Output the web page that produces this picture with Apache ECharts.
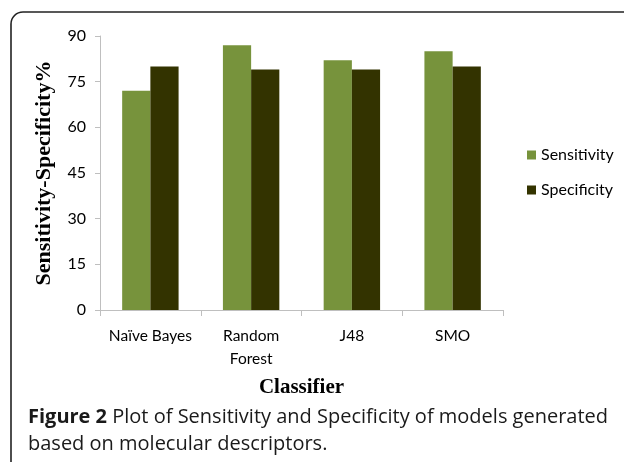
<!DOCTYPE html>
<html>
<head>
<meta charset="utf-8">
<script src="https://cdn.jsdelivr.net/npm/echarts@6/dist/echarts.min.js"></script>
<style>
  html, body { margin: 0; padding: 0; background: #fff; }
  #chart { width: 624px; height: 462px; }
</style>
</head>
<body>
<div id="chart"></div>
<script>
// Classifier performance on molecular descriptors
const classifiers = ['Naïve Bayes', 'Random\nForest', 'J48', 'SMO'];
const sensitivity = [72, 87, 82, 85];
const specificity = [80, 79, 79, 80];
const yTicks = [0, 15, 30, 45, 60, 75, 90];

const chart = echarts.init(document.getElementById('chart'), null, { renderer: 'canvas' });

const labelFont = 'Lato, "Open Sans", sans-serif';
const serifFont = '"Liberation Serif", "Times New Roman", serif';
const captionFont = '"Open Sans", "Noto Sans", sans-serif';

chart.setOption({
  animation: false,
  backgroundColor: '#fff',
  grid: { left: 100, right: 121, top: 36, bottom: 152 },
  legend: {
    orient: 'vertical',
    left: 522,
    top: 142,
    itemWidth: 9,
    itemHeight: 9,
    itemGap: 19,
    icon: 'rect',
    textStyle: { fontFamily: labelFont, fontSize: 16, color: '#000', padding: [0, 0, 0, 0] },
    data: ['Sensitivity', 'Specificity']
  },
  xAxis: {
    type: 'category',
    data: classifiers,
    name: 'Classifier',
    nameLocation: 'middle',
    nameGap: 67,
    nameTextStyle: { fontFamily: serifFont, fontWeight: 'bold', fontSize: 21, color: '#000' },
    axisLine: { lineStyle: { color: '#bfbfbf', width: 1 } },
    axisTick: { show: true, alignWithLabel: false, length: 6, lineStyle: { color: '#bfbfbf' } },
    axisLabel: { fontFamily: labelFont, fontSize: 15.5, color: '#000', margin: 14, lineHeight: 23, interval: 0 }
  },
  yAxis: {
    type: 'value',
    min: yTicks[0],
    max: yTicks[yTicks.length - 1],
    interval: yTicks[1] - yTicks[0],
    name: 'Sensitivity-Specificity%',
    nameLocation: 'middle',
    nameGap: 45,
    nameTextStyle: { fontFamily: serifFont, fontWeight: 'bold', fontSize: 22, color: '#000' },
    axisLine: { show: true, lineStyle: { color: '#bfbfbf', width: 1 } },
    axisTick: { show: true, length: 5, lineStyle: { color: '#bfbfbf' } },
    splitLine: { show: false },
    axisLabel: { fontFamily: labelFont, fontSize: 16, color: '#000', margin: 14 }
  },
  series: [
    {
      name: 'Sensitivity',
      type: 'bar',
      data: sensitivity,
      barGap: '0%',
      barCategoryGap: '44%',
      itemStyle: { color: '#77933c' }
    },
    {
      name: 'Specificity',
      type: 'bar',
      data: specificity,
      itemStyle: { color: '#333300' }
    }
  ],
  graphic: [
    {
      type: 'rect',
      shape: { x: 11, y: 12, width: 700, height: 520, r: 12 },
      style: { fill: 'none', stroke: '#222', lineWidth: 1.6 },
      silent: true
    },
    {
      type: 'text',
      left: 28,
      top: 404,
      style: {
        text: '{b|Figure 2} Plot of Sensitivity and Specificity of models generated\nbased on molecular descriptors.',
        fontFamily: captionFont,
        fontSize: 20,
        lineHeight: 27,
        fill: '#1a1a1a',
        rich: {
          b: { fontFamily: captionFont, fontSize: 20, fontWeight: 'bold', fill: '#1a1a1a' }
        }
      }
    }
  ]
});
</script>
</body>
</html>
